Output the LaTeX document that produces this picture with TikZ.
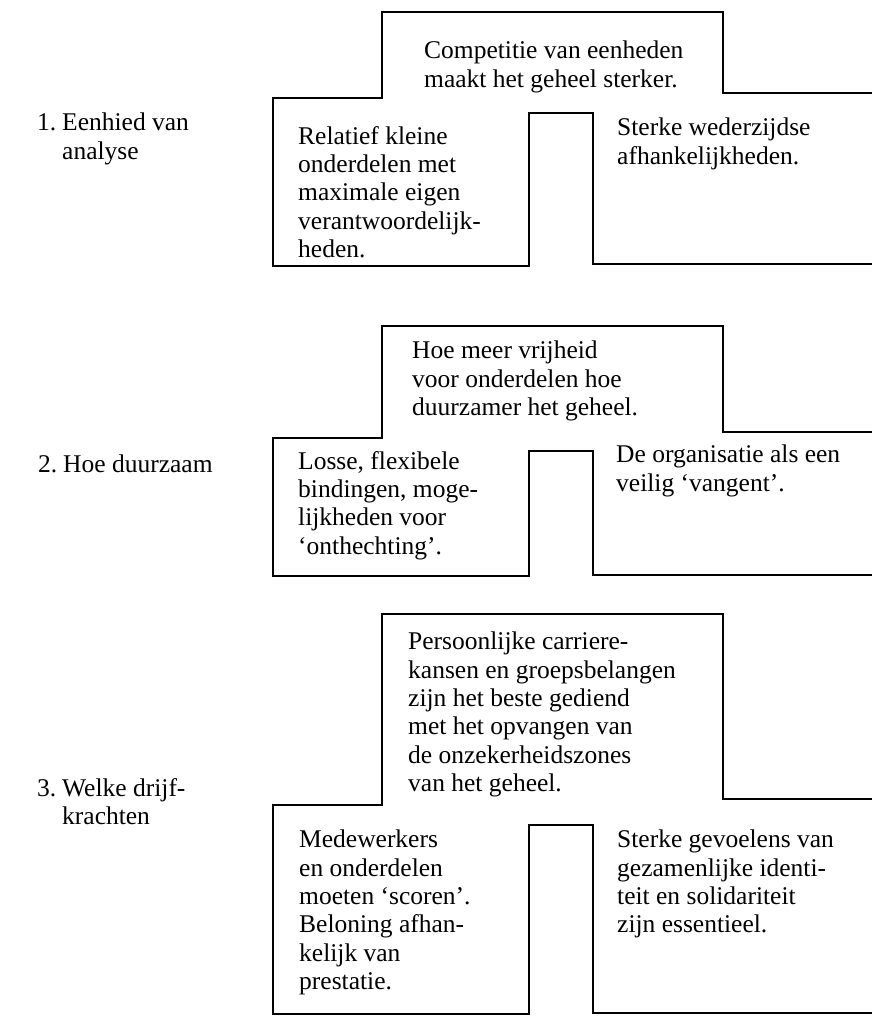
\documentclass[tikz,border=0pt]{standalone}
\usepackage{fontspec}
\setmainfont{Liberation Serif}
\newcommand\labnum[1]{\makebox[25pt][l]{#1}}
\tikzset{
  outline/.style={line width=1.7pt, line join=miter},
  txt/.style={anchor=north west, inner sep=0pt, align=left,
    font=\fontsize{25.5}{28.3}\selectfont},
}
\begin{document}
\begin{tikzpicture}[x=1pt, y=-1pt,
    declare function = {
        xl = 273;
        xa = 382;
        xb = 723;
        xn = 529;
        xm = 593;
        xr = 872;
      },
  ]
  \useasboundingbox (0,0) rectangle (872,1016);
  % 1. eenheid van analyse
  \draw[outline] (xr,93) -- (xb,93) |- (xa,12) |- (xl,98) |- (xn,266) |- (xm,113) |- (xr,264);
  \node[txt] (lab1) at (37,113) {\labnum{1.}Eenhied van\\\labnum{}analyse};
  \node[txt] (top1) at (424,41) {Competitie van eenheden\\maakt het geheel sterker.};
  \node[txt] (left1) at (298,126) {Relatief kleine\\onderdelen met\\maximale eigen\\verantwoordelijk-\\heden.};
  \node[txt] (right1) at (617,118) {Sterke wederzijdse\\afhankelijkheden.};
  % 2. hoe duurzaam
  \draw[outline] (xr,432) -- (xb,432) |- (xa,326) |- (xl,438) |- (xn,576) |- (xm,451) |- (xr,575);
  \node[txt] (lab2) at (38,455) {\labnum{2.}Hoe duurzaam};
  \node[txt] (top2) at (412,341) {Hoe meer vrijheid\\voor onderdelen hoe\\duurzamer het geheel.};
  \node[txt] (left2) at (298,451) {Losse, flexibele\\bindingen, moge-\\lijkheden voor\\‘onthechting’.};
  \node[txt] (right2) at (616,445) {De organisatie als een\\veilig ‘vangent’.};
  % 3. welke drijfkrachten
  \draw[outline] (xr,799) -- (xb,799) |- (xa,614) |- (xl,805) |- (xn,1014) |- (xm,825) |- (xr,1013);
  \node[txt] (lab3) at (37,778) {\labnum{3.}Welke drijf-\\\labnum{}krachten};
  \node[txt] (top3) at (408,632) {Persoonlijke carriere-\\kansen en groepsbelangen\\zijn het beste gediend\\met het opvangen van\\de onzekerheidszones\\van het geheel.};
  \node[txt] (left3) at (299,830) {Medewerkers\\en onderdelen\\moeten ‘scoren’.\\Beloning afhan-\\kelijk van\\prestatie.};
  \node[txt] (right3) at (617,830) {Sterke gevoelens van\\gezamenlijke identi-\\teit en solidariteit\\zijn essentieel.};
\end{tikzpicture}
\end{document}
